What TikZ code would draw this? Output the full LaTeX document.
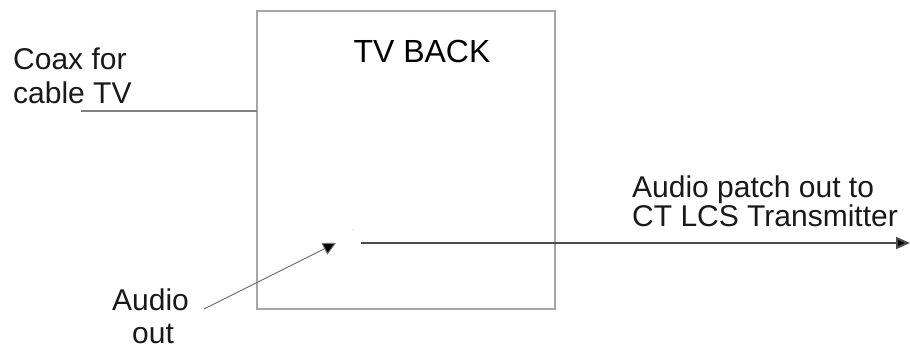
\documentclass[tikz,border=0pt]{standalone}
\usepackage{fontspec}
\setmainfont{Liberation Sans}
\usetikzlibrary{arrows.meta}
\begin{document}
\begin{tikzpicture}[x=1pt,y=-1pt,
  lbl/.style={anchor=base west,inner sep=0pt,font=\fontsize{30}{34}\selectfont,text=black!90},
  boxline/.style={draw=black!35,line width=1.5pt},
  thinline/.style={draw=black!50,line width=1.2pt},
  mainarrow/.style={draw=black!70,line width=2pt,-{Triangle[length=14pt,width=12pt,fill=black]}},
  ptrarrow/.style={draw=black!55,line width=1pt,-{Triangle[length=13pt,width=13pt,fill=black]}}]
\useasboundingbox (0,0) rectangle (910,352);
% TV box
\draw[boxline] (257,11) rectangle (555,309);
\coordinate (boxW) at (257,111);
\node[anchor=base,inner sep=0pt,font=\fontsize{32}{36}\selectfont] (tv) at (422,63) {TV BACK};
% coax
\node[lbl] (coax1) at (13,70) {Coax for};
\node[lbl] (coax2) at (13,104) {cable TV};
\coordinate (coaxS) at (81,111);
\draw[thinline] (coaxS) -- (boxW);
% audio out
\node[lbl] (aud1) at (112,311) {Audio};
\node[lbl] (aud2) at (132,344) {out};
\coordinate (audS) at (204,309);
\coordinate (jack) at (336,243);
\draw[ptrarrow] (audS) -- (jack);
\fill[black!12] (353,230) circle (1pt);
% patch out
\coordinate (patchS) at (361,243);
\coordinate (patchE) at (910,243);
\draw[mainarrow] (patchS) -- (patchE);
\node[lbl] (pt1) at (632,198) {Audio patch out to};
\node[lbl] (pt2) at (632,227) {CT LCS Transmitter};
\end{tikzpicture}
\end{document}
